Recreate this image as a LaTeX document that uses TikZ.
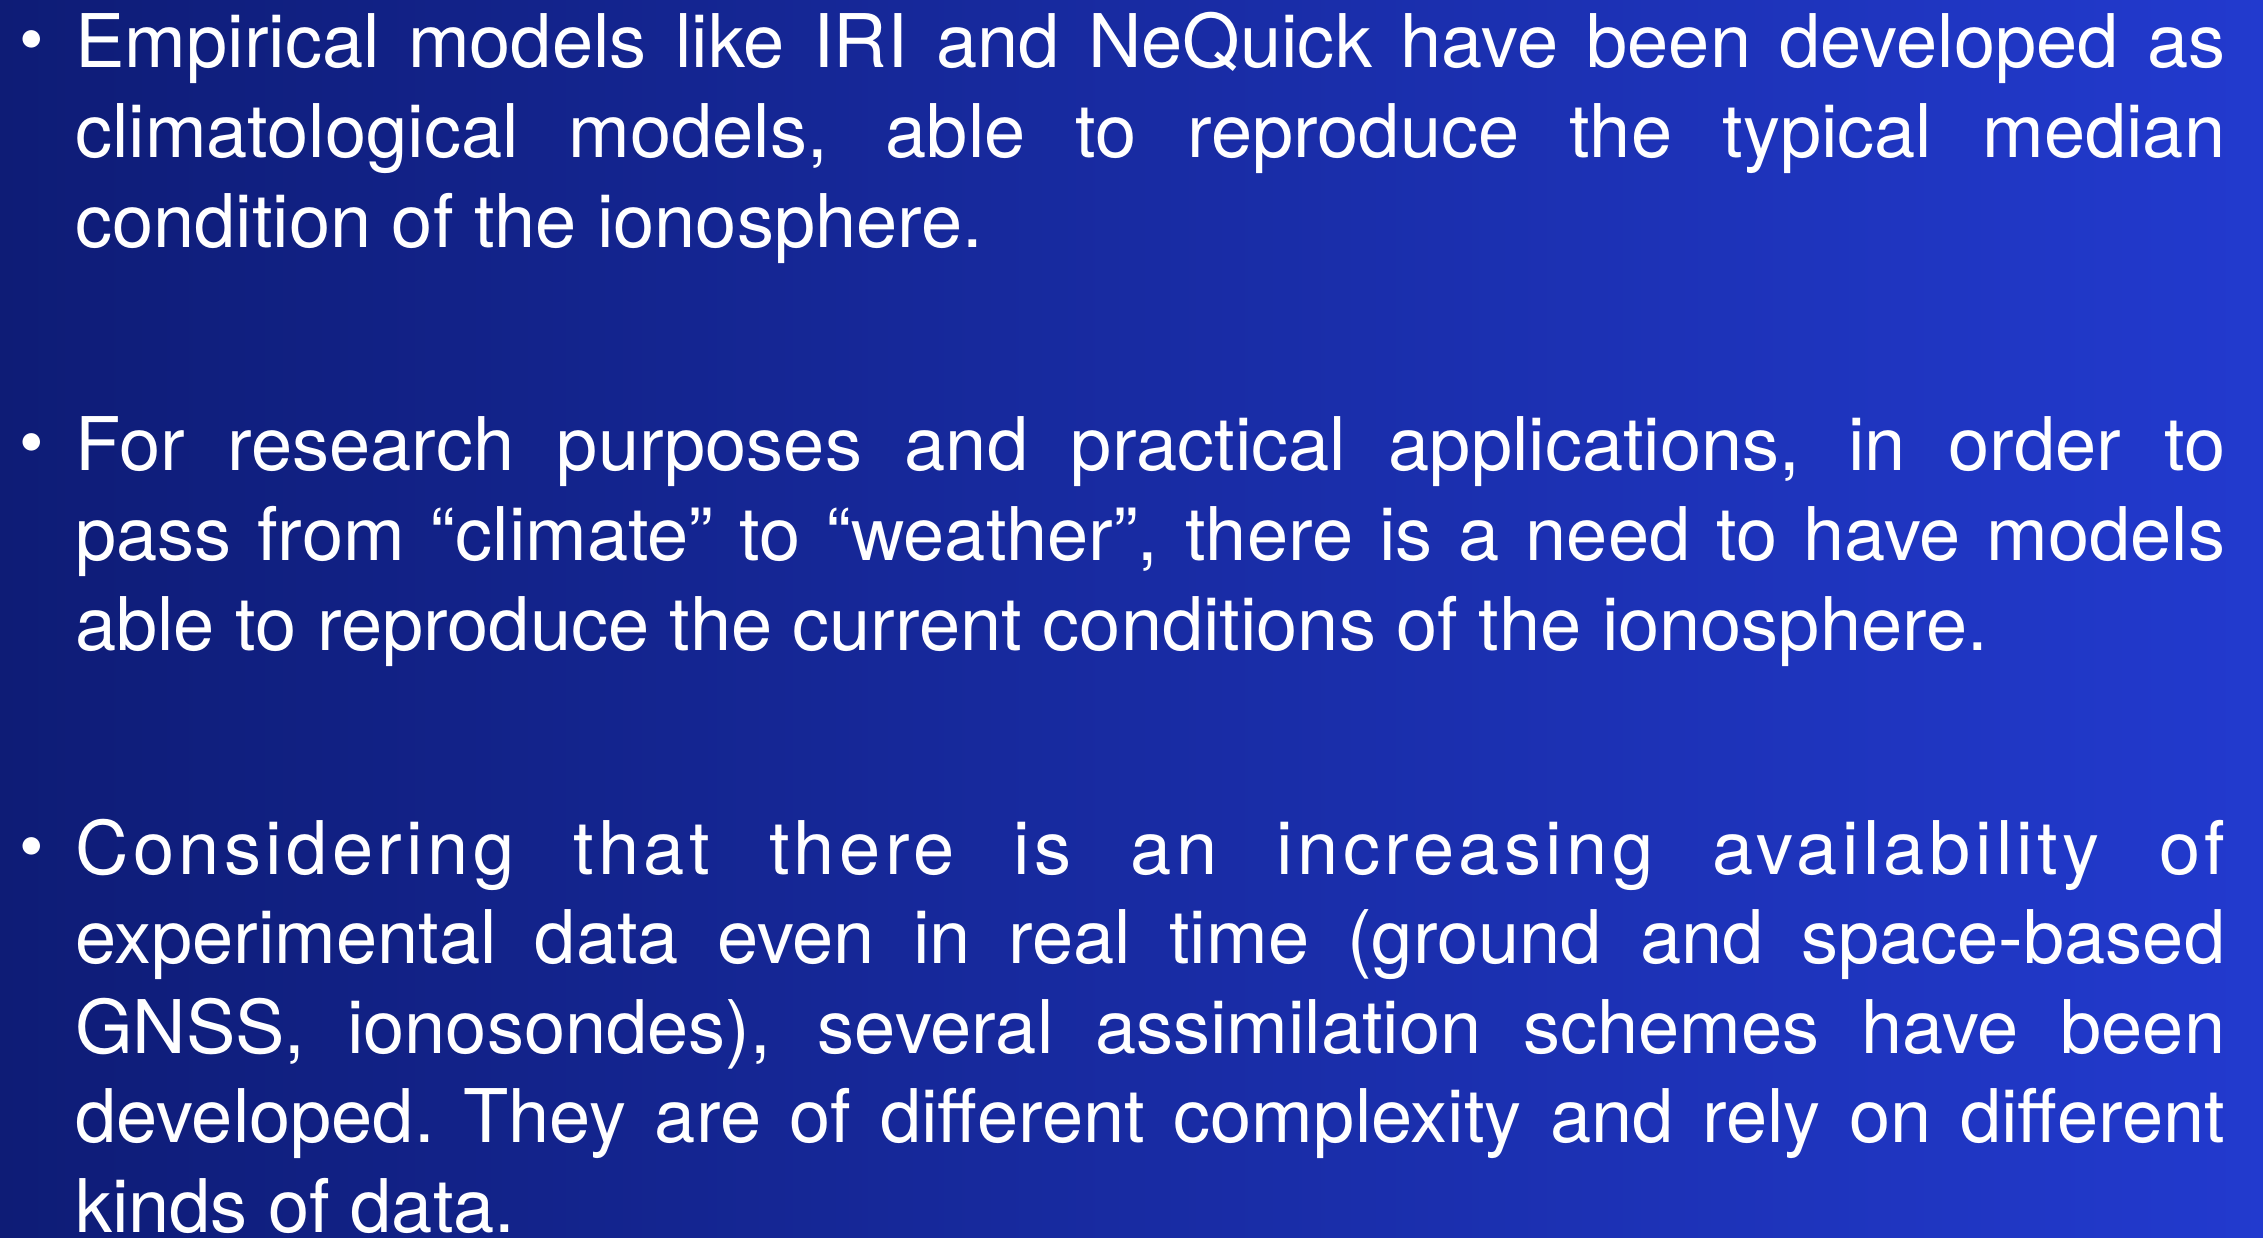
\documentclass[tikz,border=0pt]{standalone}
\usepackage{fontspec}
\setmainfont{TeX Gyre Heros}
\definecolor{bgleft}{RGB}{14,28,118}
\definecolor{bgright}{RGB}{34,58,206}
\hyphenpenalty=10000
\exhyphenpenalty=10000
\begin{document}
\begin{tikzpicture}[x=1pt,y=-1pt,
  txt/.style={anchor=base west, inner sep=0pt, text width=2150pt, align=justify, text=white,
    font=\fontsize{74}{89.6}\selectfont},
  bul/.style={anchor=base, inner sep=0pt, text=white, font=\fontsize{70}{70}\selectfont}]
\useasboundingbox (0,0) rectangle (2263,1238);
\clip (0,0) rectangle (2263,1238);
\shade[left color=bgleft, right color=bgright] (0,0) rectangle (2263,1238);

\node[bul] (b1) at (32,64) {•};
\node[txt] (p1) at (75,68) {Empirical models like IRI and NeQuick have been developed as\linebreak climatological models, able to reproduce the typical median\linebreak condition of the ionosphere.};

\node[bul] (b2) at (32,467) {•};
\node[txt] (p2) at (75,471) {For research purposes and practical applications, in order to\linebreak pass from “climate” to “weather”, there is a need to have models\linebreak able to reproduce the current conditions of the ionosphere.};

\node[bul] (b3) at (32,870) {•};
\node[txt] (p3) at (75,874) {{\addfontfeatures{LetterSpace=6}Considering that there is an increasing availability of}\linebreak experimental data even in real time (ground and space-based\linebreak GNSS, ionosondes), several assimilation schemes have been\linebreak developed.\ They are of different complexity and rely on different\linebreak kinds of data.};
\end{tikzpicture}
\end{document}
